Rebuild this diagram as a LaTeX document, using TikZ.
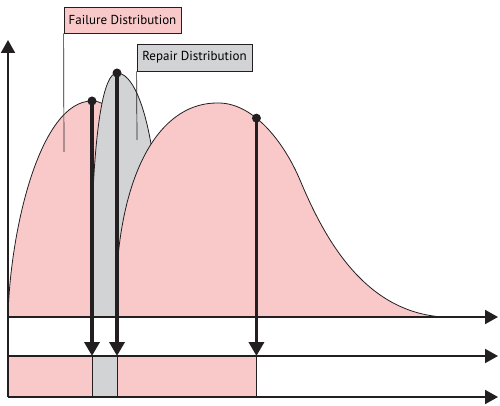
\documentclass[tikz,border=0pt]{standalone}
\usepackage{fontspec}
\setsansfont{PT Sans}
\usetikzlibrary{arrows.meta}
\definecolor{failPink}{HTML}{F9C9CA}
\definecolor{repairGray}{HTML}{D1D3D4}
\definecolor{ink}{HTML}{231F20}
\tikzset{
  axis/.style = {color=ink, line width=2pt, -{Triangle[length=13pt,width=14pt]}},
  event/.style = {color=ink, line width=3.5pt, -{Triangle[length=14pt,width=15pt]}},
  point/.style = {circle, fill=ink, inner sep=0pt, minimum size=9pt},
  density/.style = {fill=#1, draw=ink, line width=0.8pt},
  interval/.style = {fill=#1, draw=ink, line width=0.6pt},
  label box/.style = {draw=ink, line width=0.8pt, fill=#1, inner sep=0pt,
    font=\sffamily\fontsize{13}{15}\selectfont},
  leader/.style = {color=ink, line width=0.7pt}
}

\begin{document}
\begin{tikzpicture}[x=1pt, y=-1pt]
    \useasboundingbox (0,0) rectangle (500,406);

    % Coordinates
    \coordinate (tA) at (8,317);
    \coordinate (tB) at (8,356);
    \coordinate (tC) at (8,397);
    \coordinate (yEnd) at (8,40);
    \coordinate (tAEnd) at (498,317);
    \coordinate (tBEnd) at (498,356);
    \coordinate (tCEnd) at (498,397);
    \coordinate (f1) at (92,101);
    \coordinate (r1) at (117,73);
    \coordinate (failTip) at (64,152);
    \coordinate (repTip) at (137,140);

    % Densities
    \draw[density={failPink}] (tA) .. controls (10,230) and (40,101) .. (f1)
        .. controls (100,101) and (108,105) .. (115,118) -- (115,317) -- cycle;
    \draw[density={repairGray}] (92,317) -- (92,215) .. controls (95,130) and (103,73) .. (r1)
        .. controls (132,73) and (145,105) .. (152,150) -- (158,200) -- (158,317) -- cycle;
    \draw[density={failPink}] (117,317) -- (117,268) .. controls (125,160) and (165,103) .. (217,103)
        .. controls (252,102) and (283,140) .. coordinate[pos=0.4] (f2) (300,180)
        .. controls (325,240) and (365,312) .. (443,317) -- cycle;

    % Leaders
    \node[label box={failPink}, minimum width=117pt, minimum height=26pt] (failLbl) at (122.5,20) {Failure Distribution};
    \node[label box={repairGray}, minimum width=115pt, minimum height=27pt] (repLbl) at (194.5,57.5) {Repair Distribution};
    \draw[leader] (failLbl.south west) -- (failTip);
    \draw[leader] (repLbl.south west) -- (repTip);

    % Up and down states
    \draw[interval={failPink}] (tB) rectangle (f2 |- tC);
    \draw[interval={repairGray}] (f1 |- tB) rectangle (r1 |- tC);

    % Axes
    \draw[axis] (tC) -- (yEnd);
    \draw[axis] (tA) -- (tAEnd);
    \draw[axis] (tB) -- (tBEnd);
    \draw[axis] (tC) -- (tCEnd);

    % Events
    \foreach \ev in {f1,r1,f2} {
        \draw[event] (\ev) -- (\ev |- tB);
        \node[point] at (\ev) {};
    }

\end{tikzpicture}
\end{document}
